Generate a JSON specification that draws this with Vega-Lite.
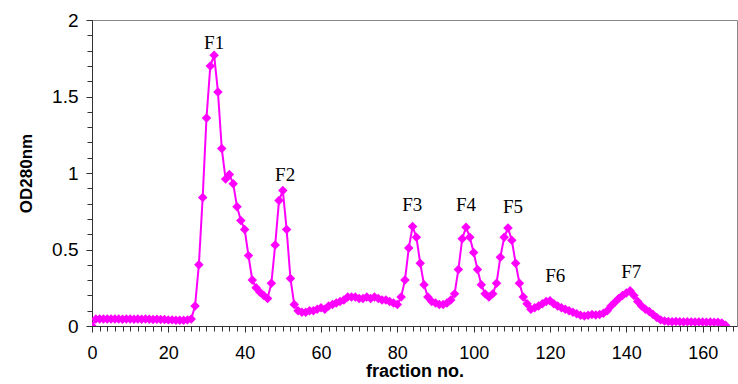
{
  "$schema": "https://vega.github.io/schema/vega-lite/v6.json",
  "width": 645,
  "height": 306,
  "autosize": {"type": "none"},
  "padding": {"left": 92, "top": 20, "right": 1, "bottom": 58},
  "background": "white",
  "config": {
    "view": {"stroke": "#888888", "strokeWidth": 1},
    "axis": {"labelFont": "Liberation Sans", "titleFont": "Liberation Sans", "labelColor": "#000", "titleColor": "#000", "domainColor": "#333", "tickColor": "#333", "grid": false}
  },
  "datasets": {
    "od": [
      {"fraction": 0, "od": 0.0}, {"fraction": 1, "od": 0.045}, {"fraction": 2, "od": 0.045}, {"fraction": 3, "od": 0.046}, {"fraction": 4, "od": 0.045},
      {"fraction": 5, "od": 0.046}, {"fraction": 6, "od": 0.045}, {"fraction": 7, "od": 0.045}, {"fraction": 8, "od": 0.044}, {"fraction": 9, "od": 0.045},
      {"fraction": 10, "od": 0.045}, {"fraction": 11, "od": 0.044}, {"fraction": 12, "od": 0.045}, {"fraction": 13, "od": 0.044}, {"fraction": 14, "od": 0.045},
      {"fraction": 15, "od": 0.044}, {"fraction": 16, "od": 0.043}, {"fraction": 17, "od": 0.044}, {"fraction": 18, "od": 0.043}, {"fraction": 19, "od": 0.042},
      {"fraction": 20, "od": 0.04}, {"fraction": 21, "od": 0.04}, {"fraction": 22, "od": 0.038}, {"fraction": 23, "od": 0.037}, {"fraction": 24, "od": 0.038},
      {"fraction": 25, "od": 0.04}, {"fraction": 26, "od": 0.045}, {"fraction": 27, "od": 0.13}, {"fraction": 28, "od": 0.40}, {"fraction": 29, "od": 0.84},
      {"fraction": 30, "od": 1.36}, {"fraction": 31, "od": 1.70}, {"fraction": 32, "od": 1.77}, {"fraction": 33, "od": 1.53}, {"fraction": 34, "od": 1.16},
      {"fraction": 35, "od": 0.96}, {"fraction": 36, "od": 0.99}, {"fraction": 37, "od": 0.93}, {"fraction": 38, "od": 0.78}, {"fraction": 39, "od": 0.69},
      {"fraction": 40, "od": 0.63}, {"fraction": 41, "od": 0.46}, {"fraction": 42, "od": 0.30}, {"fraction": 43, "od": 0.25}, {"fraction": 44, "od": 0.22},
      {"fraction": 45, "od": 0.20}, {"fraction": 46, "od": 0.18}, {"fraction": 47, "od": 0.28}, {"fraction": 48, "od": 0.53}, {"fraction": 49, "od": 0.82},
      {"fraction": 50, "od": 0.885}, {"fraction": 51, "od": 0.63}, {"fraction": 52, "od": 0.31}, {"fraction": 53, "od": 0.14}, {"fraction": 54, "od": 0.10},
      {"fraction": 55, "od": 0.09}, {"fraction": 56, "od": 0.09}, {"fraction": 57, "od": 0.10}, {"fraction": 58, "od": 0.10}, {"fraction": 59, "od": 0.11},
      {"fraction": 60, "od": 0.12}, {"fraction": 61, "od": 0.11}, {"fraction": 62, "od": 0.13}, {"fraction": 63, "od": 0.14}, {"fraction": 64, "od": 0.15},
      {"fraction": 65, "od": 0.16}, {"fraction": 66, "od": 0.17}, {"fraction": 67, "od": 0.19}, {"fraction": 68, "od": 0.19}, {"fraction": 69, "od": 0.19},
      {"fraction": 70, "od": 0.18}, {"fraction": 71, "od": 0.18}, {"fraction": 72, "od": 0.19}, {"fraction": 73, "od": 0.18}, {"fraction": 74, "od": 0.19},
      {"fraction": 75, "od": 0.18}, {"fraction": 76, "od": 0.17}, {"fraction": 77, "od": 0.17}, {"fraction": 78, "od": 0.16}, {"fraction": 79, "od": 0.15},
      {"fraction": 80, "od": 0.14}, {"fraction": 81, "od": 0.19}, {"fraction": 82, "od": 0.30}, {"fraction": 83, "od": 0.51}, {"fraction": 84, "od": 0.65},
      {"fraction": 85, "od": 0.58}, {"fraction": 86, "od": 0.41}, {"fraction": 87, "od": 0.27}, {"fraction": 88, "od": 0.19}, {"fraction": 89, "od": 0.16},
      {"fraction": 90, "od": 0.15}, {"fraction": 91, "od": 0.14}, {"fraction": 92, "od": 0.14}, {"fraction": 93, "od": 0.15}, {"fraction": 94, "od": 0.17},
      {"fraction": 95, "od": 0.21}, {"fraction": 96, "od": 0.37}, {"fraction": 97, "od": 0.57}, {"fraction": 98, "od": 0.645}, {"fraction": 99, "od": 0.58},
      {"fraction": 100, "od": 0.48}, {"fraction": 101, "od": 0.37}, {"fraction": 102, "od": 0.27}, {"fraction": 103, "od": 0.21}, {"fraction": 104, "od": 0.19},
      {"fraction": 105, "od": 0.21}, {"fraction": 106, "od": 0.28}, {"fraction": 107, "od": 0.45}, {"fraction": 108, "od": 0.58}, {"fraction": 109, "od": 0.64},
      {"fraction": 110, "od": 0.56}, {"fraction": 111, "od": 0.41}, {"fraction": 112, "od": 0.28}, {"fraction": 113, "od": 0.19}, {"fraction": 114, "od": 0.145},
      {"fraction": 115, "od": 0.11}, {"fraction": 116, "od": 0.12}, {"fraction": 117, "od": 0.13}, {"fraction": 118, "od": 0.145}, {"fraction": 119, "od": 0.16},
      {"fraction": 120, "od": 0.165}, {"fraction": 121, "od": 0.145}, {"fraction": 122, "od": 0.13}, {"fraction": 123, "od": 0.12}, {"fraction": 124, "od": 0.11},
      {"fraction": 125, "od": 0.10}, {"fraction": 126, "od": 0.09}, {"fraction": 127, "od": 0.08}, {"fraction": 128, "od": 0.07}, {"fraction": 129, "od": 0.065},
      {"fraction": 130, "od": 0.07}, {"fraction": 131, "od": 0.075}, {"fraction": 132, "od": 0.072}, {"fraction": 133, "od": 0.075}, {"fraction": 134, "od": 0.083},
      {"fraction": 135, "od": 0.10}, {"fraction": 136, "od": 0.13}, {"fraction": 137, "od": 0.155}, {"fraction": 138, "od": 0.18}, {"fraction": 139, "od": 0.20},
      {"fraction": 140, "od": 0.215}, {"fraction": 141, "od": 0.23}, {"fraction": 142, "od": 0.20}, {"fraction": 143, "od": 0.16}, {"fraction": 144, "od": 0.13},
      {"fraction": 145, "od": 0.11}, {"fraction": 146, "od": 0.095}, {"fraction": 147, "od": 0.075}, {"fraction": 148, "od": 0.055}, {"fraction": 149, "od": 0.04},
      {"fraction": 150, "od": 0.032}, {"fraction": 151, "od": 0.03}, {"fraction": 152, "od": 0.028}, {"fraction": 153, "od": 0.03}, {"fraction": 154, "od": 0.028},
      {"fraction": 155, "od": 0.027}, {"fraction": 156, "od": 0.028}, {"fraction": 157, "od": 0.027}, {"fraction": 158, "od": 0.026}, {"fraction": 159, "od": 0.027},
      {"fraction": 160, "od": 0.026}, {"fraction": 161, "od": 0.025}, {"fraction": 162, "od": 0.026}, {"fraction": 163, "od": 0.025}, {"fraction": 164, "od": 0.024},
      {"fraction": 165, "od": 0.02}, {"fraction": 166, "od": 0.005}
    ],
    "peaks": [
      {"label": "F1", "fraction": 32, "od": 1.85},
      {"label": "F2", "fraction": 50.6, "od": 0.99},
      {"label": "F3", "fraction": 83.9, "od": 0.79},
      {"label": "F4", "fraction": 98, "od": 0.79},
      {"label": "F5", "fraction": 110.3, "od": 0.78},
      {"label": "F6", "fraction": 121.4, "od": 0.33},
      {"label": "F7", "fraction": 141.3, "od": 0.35}
    ]
  },
  "resolve": {"axis": {"x": "independent", "y": "independent"}},
  "layer": [
    {
      "data": {"name": "od"},
      "mark": {"type": "line", "color": "#FF00FF", "strokeWidth": 2, "clip": true, "point": {"shape": "diamond", "size": 90, "color": "#FF00FF", "filled": true, "opacity": 1}},
      "encoding": {
        "x": {"field": "fraction", "type": "quantitative", "scale": {"domain": [0, 169], "nice": false, "zero": false},
          "axis": {"orient": "bottom", "values": [0, 20, 40, 60, 80, 100, 120, 140, 160], "title": "fraction no.", "titleFontSize": 18, "titleFontWeight": "bold", "titlePadding": 0, "labelFontSize": 18, "tickSize": 6, "labelPadding": 12, "labelFlush": false}},
        "y": {"field": "od", "type": "quantitative", "scale": {"domain": [0, 2], "nice": false},
          "axis": {"orient": "left", "values": [0, 0.5, 1, 1.5, 2], "format": "~g", "title": "OD280nm", "titleFontSize": 17, "titleFontWeight": "bold", "titlePadding": 16, "labelFontSize": 19, "tickSize": 6, "labelPadding": 8, "labelFlush": false}}
      }
    },
    {
      "data": {"name": "peaks"},
      "mark": {"type": "text", "font": "Liberation Serif", "fontSize": 19, "baseline": "middle", "align": "center", "color": "#000"},
      "encoding": {
        "x": {"field": "fraction", "type": "quantitative",
          "axis": {"orient": "bottom", "values": [0,2,4,6,8,10,12,14,16,18,20,22,24,26,28,30,32,34,36,38,40,42,44,46,48,50,52,54,56,58,60,62,64,66,68,70,72,74,76,78,80,82,84,86,88,90,92,94,96,98,100,102,104,106,108,110,112,114,116,118,120,122,124,126,128,130,132,134,136,138,140,142,144,146,148,150,152,154,156,158,160,162,164,166,168], "labels": false, "title": null, "tickSize": 5, "domain": false}},
        "y": {"field": "od", "type": "quantitative",
          "axis": {"orient": "left", "values": [0,0.1,0.2,0.3,0.4,0.5,0.6,0.7,0.8,0.9,1,1.1,1.2,1.3,1.4,1.5,1.6,1.7,1.8,1.9,2], "labels": false, "title": null, "tickSize": 5, "domain": false}},
        "text": {"field": "label"}
      }
    }
  ]
}
